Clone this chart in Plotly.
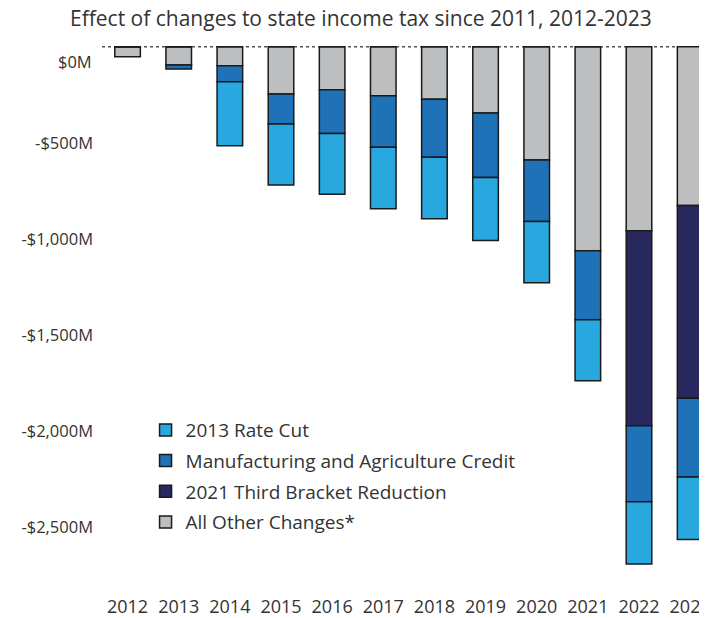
import plotly.graph_objects as go

years = ["2012", "2013", "2014", "2015", "2016", "2017", "2018", "2019", "2020", "2021", "2022", "2023"]
other_changes = [-52, -94, -99, -246, -224, -255, -273, -344, -589, -1062, -958, -826]
third_bracket = [0, 0, 0, 0, 0, 0, 0, 0, 0, 0, -1016, -1004]
mfg_ag_credit = [0, -22, -83, -156, -227, -268, -302, -337, -321, -359, -396, -410]
rate_cut_2013 = [0, 0, -333, -318, -317, -320, -320, -328, -319, -318, -324, -326]

y_tick_vals = [-500, -1000, -1500, -2000, -2500]
y_tick_text = ["-$500M", "-$1,000M", "-$1,500M", "-$2,000M", "-$2,500M"]
zero_label = "$0M"

subtitle = "Effect of changes to state income tax since 2011, 2012-2023"

FONT = "Open Sans"
TXT = "#333333"
EDGE = "#1a1a1a"

# page body has an 8px default margin: figure coords = screen coords - 8
L, T = 94, 35

fig = go.Figure()
series = [
    ("All Other Changes*", other_changes, "#BDBEC0", 4),
    ("2021 Third Bracket Reduction", third_bracket, "#28285F", 3),
    ("Manufacturing and Agriculture Credit", mfg_ag_credit, "#1F72B8", 2),
    ("2013 Rate Cut", rate_cut_2013, "#29A8E0", 1),
]
for name, vals, col, rank in series:
    fig.add_trace(go.Bar(
        x=years, y=vals, name=name, legendrank=rank, legendgroup=name,
        marker=dict(color=col, line=dict(color=EDGE, width=1.5)),
        width=0.5,
    ))

fig.add_shape(type="line", xref="paper", yref="y", x0=0, x1=1, y0=0, y1=0,
              line=dict(color="#555555", width=1.5, dash="dot"), layer="below")

fig.update_layout(
    width=707, height=618,
    margin=dict(l=L, r=8, t=T, b=32),
    barmode="relative",
    bargap=0.5,
    plot_bgcolor="white", paper_bgcolor="white",
    font=dict(family=FONT, size=16, color=TXT),
    showlegend=True,
    legend=dict(
        traceorder="grouped", tracegroupgap=3,
        x=0.072, y=0.332, xanchor="left", yanchor="top",
        bgcolor="rgba(0,0,0,0)", font=dict(size=19, color=TXT),
    ),
    xaxis=dict(type="category", range=[-0.5, 11.33], showgrid=False, zeroline=False,
               showline=False, ticks="", automargin=False,
               tickfont=dict(size=18, color=TXT)),
    yaxis=dict(range=[-2850, 20], tickvals=y_tick_vals, ticktext=y_tick_text,
               showgrid=False, zeroline=False, showline=False, ticks="", automargin=False,
               tickfont=dict(size=16.5, color=TXT), ticklabelstandoff=8),
    annotations=[
        dict(text=subtitle, xref="paper", yref="paper", x=(353 - L) / 605, y=1,
             yshift=25, xanchor="center", yanchor="middle", showarrow=False,
             font=dict(size=21, color=TXT, family=FONT)),
        dict(text=zero_label, xref="paper", yref="y", x=0, y=0, xshift=-8, yshift=-15,
             xanchor="right", yanchor="middle", showarrow=False,
             font=dict(size=16.5, color=TXT, family=FONT)),
    ],
)

fig.write_html("out.html")
